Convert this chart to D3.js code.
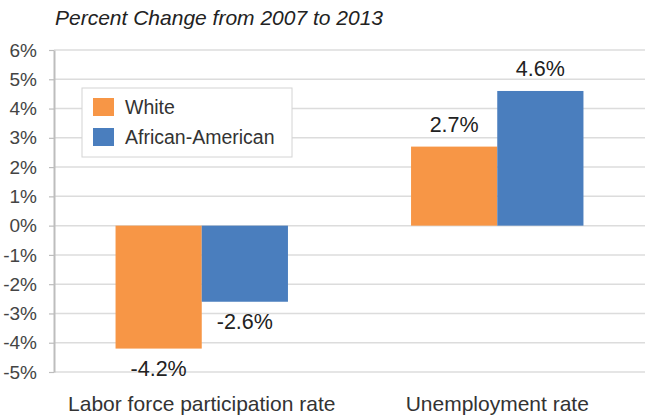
<!DOCTYPE html>
<html>
<head>
<meta charset="utf-8">
<script src="https://cdn.jsdelivr.net/npm/d3@7"></script>
<style>
  html, body { margin: 0; padding: 0; background: #fff; }
  svg { display: block; font-family: "Liberation Sans", Arial, sans-serif; }
</style>
</head>
<body>
<svg id="chart" width="649" height="417"></svg>
<script>
// Percent change in labor market measures, 2007–2013
const categories = ["Labor force participation rate", "Unemployment rate"];
const seriesNames = ["White", "African-American"];
const whiteValues = [-4.2, 2.7];
const africanAmericanValues = [-2.6, 4.6];
const yTicks = [-5, -4, -3, -2, -1, 0, 1, 2, 3, 4, 5, 6];
const colors = ["#F79646", "#4A7EBE"];

const svg = d3.select("#chart");
const margin = { left: 54, right: 4 };
const W = 649;

const x = d3.scaleBand().domain(categories).range([margin.left, W - margin.right]).paddingInner(0).paddingOuter(0);
const xs = d3.scaleBand().domain(seriesNames).range([0, x.bandwidth()]).paddingInner(0).paddingOuter(0.714);
const y = d3.scaleLinear().domain([-5, 6]).range([372, 50]);

// title
svg.append("text")
  .attr("x", 55).attr("y", 25)
  .attr("font-size", 21).attr("font-style", "italic")
  .attr("fill", "#222")
  .text("Percent Change from 2007 to 2013");

// gridlines
svg.append("g").selectAll("line").data(yTicks).join("line")
  .attr("x1", margin.left).attr("x2", W - 4)
  .attr("y1", d => y(d)).attr("y2", d => y(d))
  .attr("stroke", "#dcdcdc").attr("stroke-width", 1.5);

// y axis
const yAxis = d3.axisLeft(y).tickValues(yTicks).tickFormat(d => d + "%").tickSize(5).tickSizeOuter(0);
const gy = svg.append("g").attr("transform", `translate(${margin.left},0)`).call(yAxis);
gy.select(".domain").attr("stroke", "#bdbdbd").attr("stroke-width", 2);
gy.selectAll(".tick line").attr("stroke", "#bdbdbd").attr("stroke-width", 1.2);
gy.selectAll(".tick text").attr("font-size", 19).attr("fill", "#444")
  .attr("font-family", "'Liberation Sans', Arial, sans-serif").attr("x", -17);

// bars
const rows = categories.map((c, i) => ({ cat: c, vals: [whiteValues[i], africanAmericanValues[i]] }));
const groups = svg.append("g").selectAll("g").data(rows).join("g")
  .attr("transform", d => `translate(${x(d.cat)},0)`);

groups.selectAll("rect").data(d => d.vals.map((v, j) => ({ v, s: seriesNames[j], j }))).join("rect")
  .attr("x", d => xs(d.s))
  .attr("width", xs.bandwidth())
  .attr("y", d => Math.min(y(d.v), y(0)))
  .attr("height", d => Math.abs(y(d.v) - y(0)))
  .attr("fill", d => colors[d.j]);

// value labels: below negative bars, above positive ones
groups.selectAll("text").data(d => d.vals.map((v, j) => ({ v, s: seriesNames[j], j }))).join("text")
  .attr("x", d => xs(d.s) + xs.bandwidth() / 2)
  .attr("y", d => d.v < 0 ? y(d.v) + 27 : y(d.v) - 15)
  .attr("text-anchor", "middle")
  .attr("font-size", 21.5).attr("fill", "#222")
  .text(d => d.v.toFixed(1) + "%");

// category labels
svg.append("g").selectAll("text").data(categories).join("text")
  .attr("x", d => x(d) + x.bandwidth() / 2)
  .attr("y", 411)
  .attr("text-anchor", "middle")
  .attr("font-size", 21).attr("fill", "#333")
  .text(d => d);

// legend
const lg = svg.append("g").attr("transform", "translate(82,88)");
lg.append("rect").attr("width", 210).attr("height", 69)
  .attr("fill", "#fff").attr("stroke", "#d4d4d4").attr("stroke-width", 1);
seriesNames.forEach((s, i) => {
  lg.append("rect").attr("x", 11).attr("y", 10 + i * 30).attr("width", 21).attr("height", 18).attr("fill", colors[i]);
  lg.append("text").attr("x", 43).attr("y", 26 + i * 30)
    .attr("font-size", 19.5).attr("fill", "#333").text(s);
});
</script>
</body>
</html>
